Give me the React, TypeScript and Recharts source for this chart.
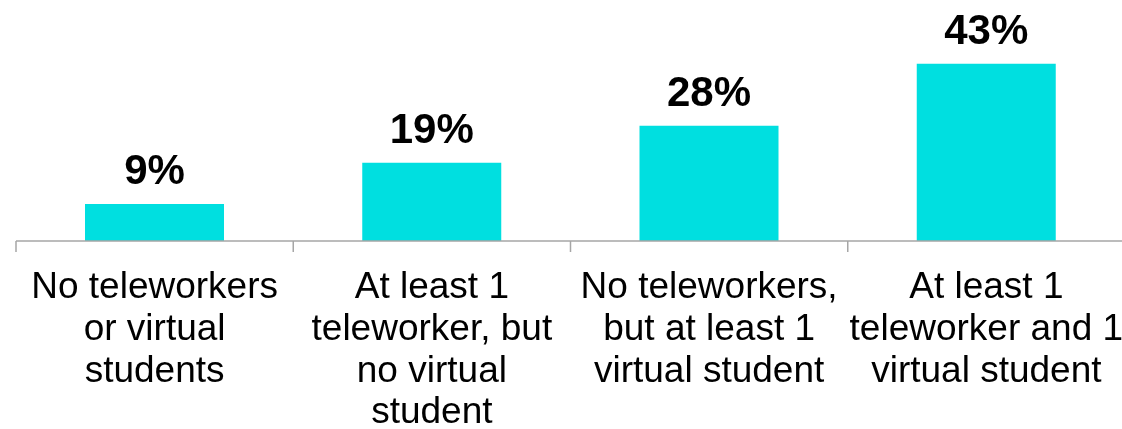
import React from 'react';
import { BarChart, Bar, XAxis, YAxis, LabelList } from 'recharts';

const categories = [
  'No teleworkers\nor virtual\nstudents',
  'At least 1\nteleworker, but\nno virtual\nstudent',
  'No teleworkers,\nbut at least 1\nvirtual student',
  'At least 1\nteleworker and 1\nvirtual student',
];
const shares = [9, 19, 28, 43];

const data = categories.map((name, i) => ({ name, value: shares[i] }));

const FONT = '"Liberation Sans", Arial, sans-serif';
const AXIS = '#a6a6a6';

function CategoryTick(props: any) {
  const { x, y, payload } = props;
  const lines = String(payload.value).split('\n');
  const left = x - (payload.offset || 0);
  return (
    <g>
      <line x1={left} y1={241} x2={left} y2={252} stroke={AXIS} strokeWidth={1.5} />
      <text x={x} y={y} textAnchor="middle" fontFamily={FONT} fontSize={37} fill="#000">
        {lines.map((l, i) => (
          <tspan key={i} x={x} y={y + 49 + i * 41.8}>
            {l}
          </tspan>
        ))}
      </text>
    </g>
  );
}

export default function App() {
  return (
    <div style={{ position: 'fixed', left: 0, top: 0, width: 1122, height: 429, overflow: 'hidden' }}>
      <BarChart
        width={1130}
        height={429}
        data={data}
        margin={{ top: 35, right: 5, left: 16, bottom: 0 }}
        barCategoryGap="25%"
      >
        <XAxis
          dataKey="name"
          interval={0}
          height={188}
          tickLine={false}
          axisLine={{ stroke: AXIS, strokeWidth: 1.5 }}
          tick={<CategoryTick />}
        />
        <YAxis hide domain={[0, 50]} />
        <Bar dataKey="value" fill="#00dfe0" barSize={139} isAnimationActive={false}>
          <LabelList
            dataKey="value"
            position="top"
            offset={20}
            formatter={(v: any) => `${v}%`}
            style={{ fontFamily: FONT, fontSize: 42, fontWeight: 'bold', fill: '#000' }}
          />
        </Bar>
      </BarChart>
    </div>
  );
}
